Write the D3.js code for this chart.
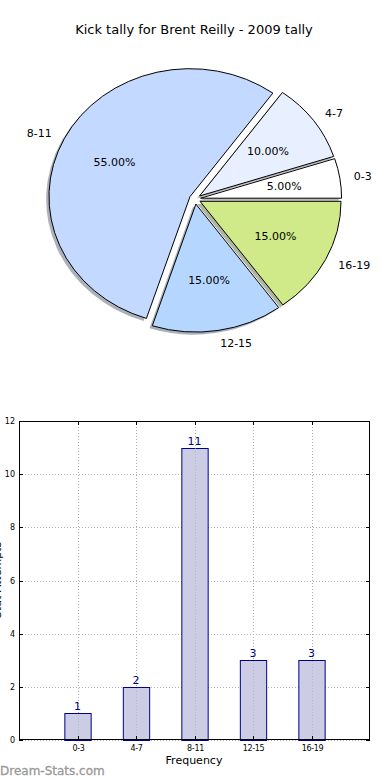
<!DOCTYPE html>
<html><head><meta charset="utf-8">
<script src="https://cdn.jsdelivr.net/npm/d3@7"></script>
<style>
body{margin:0;background:#fff;}
svg{display:block;font-family:"DejaVu Sans",sans-serif;}
</style></head>
<body><svg id="c" width="390" height="780"></svg>
<script>
const categories = ["0-3","4-7","8-11","12-15","16-19"];
const values = [1,2,11,3,3];
const pieColors = ["#ffffff","#e8f0ff","#c4d9ff","#b5d7ff","#d0ea8a"];
const yTicks = [0,2,4,6,8,10,12];
const title = "Kick tally for Brent Reilly - 2009 tally";

const svg = d3.select("#c");
svg.append("rect").attr("width",390).attr("height",780).attr("fill","#fff");

svg.append("text").attr("x",194).attr("y",34).attr("text-anchor","middle")
  .attr("font-size",13).attr("fill","#000").text(title);

// ---- Pie (matplotlib style: start at 3 o'clock, counter-clockwise, elliptical) ----
const cx = 195, cy = 199, rx = 141, ry = 128, explode = 0.04;
const total = d3.sum(values);
const pie = d3.pie().sort(null).startAngle(Math.PI/2).endAngle(Math.PI/2 - 2*Math.PI);
const arcs = pie(values);
const arc = d3.arc().innerRadius(0).outerRadius(rx);
const sy = ry/rx;
function midTheta(d){
  const m = (d.startAngle + d.endAngle)/2;
  return Math.PI/2 - m;
}
function offset(d, dist){
  const t = midTheta(d);
  return [dist*rx*Math.cos(t), -dist*ry*Math.sin(t)];
}
const pieG = svg.append("g");
arcs.forEach((d,i)=>{
  const o = offset(d, explode);
  pieG.append("path")
    .attr("transform",`translate(${cx+o[0]-0.02*rx},${cy+o[1]+0.02*ry}) scale(1,${sy})`)
    .attr("d", arc(d))
    .attr("fill", d3.rgb(pieColors[i]).darker(2.2))
    .attr("fill-opacity",0.5);
});
arcs.forEach((d,i)=>{
  const o = offset(d, explode);
  pieG.append("path")
    .attr("transform",`translate(${cx+o[0]},${cy+o[1]}) scale(1,${sy})`)
    .attr("d", arc(d))
    .attr("fill", pieColors[i])
    .attr("stroke","#000").attr("stroke-width",1)
    .attr("vector-effect","non-scaling-stroke");
});
arcs.forEach((d,i)=>{
  const o = offset(d, explode);
  const t = midTheta(d);
  const bx = cx+o[0], by = cy+o[1];
  const lx = bx + 1.1*rx*Math.cos(t), ly = by - 1.1*ry*Math.sin(t);
  pieG.append("text").attr("x",lx).attr("y",ly).attr("dy","0.35em")
    .attr("text-anchor", Math.cos(t) > 0 ? "start" : "end")
    .attr("font-size",11).attr("fill","#000").text(categories[i]);
  const px = bx + 0.6*rx*Math.cos(t), py = by - 0.6*ry*Math.sin(t);
  pieG.append("text").attr("x",px).attr("y",py).attr("dy","0.35em")
    .attr("text-anchor","middle").attr("font-size",11).attr("fill","#000")
    .text((values[i]/total*100).toFixed(2)+"%");
});

// ---- Bar chart ----
const L = 19, R = 370, T = 421, B = 740;
const x = d3.scaleLinear().domain([-1,5]).range([L,R]);
const y = d3.scaleLinear().domain([0,12]).range([B,T]);
const bw = 0.45;
const bg = svg.append("g");

bg.selectAll(".gy").data(yTicks).join("line")
  .attr("x1",L).attr("x2",R).attr("y1",d=>Math.round(y(d))+0.5).attr("y2",d=>Math.round(y(d))+0.5)
  .attr("stroke","#b0b0b0").attr("stroke-width",1).attr("stroke-dasharray","1,2");
bg.selectAll(".gx").data(categories).join("line")
  .attr("x1",(d,i)=>Math.round(x(i))+0.5).attr("x2",(d,i)=>Math.round(x(i))+0.5).attr("y1",T).attr("y2",B)
  .attr("stroke","#b0b0b0").attr("stroke-width",1).attr("stroke-dasharray","1,2");

bg.selectAll(".bar").data(values).join("rect")
  .attr("x",(d,i)=>x(i-bw/2)+0.5).attr("width",x(bw)-x(0))
  .attr("y",d=>Math.round(y(d))+0.5).attr("height",d=>B-Math.round(y(d)))
  .attr("fill","#ccccE4").attr("stroke","#00008b").attr("stroke-width",1);
bg.selectAll(".gx2").data(categories).join("line")
  .attr("x1",(d,i)=>Math.round(x(i))+0.5).attr("x2",(d,i)=>Math.round(x(i))+0.5).attr("y1",T).attr("y2",B)
  .attr("stroke","#aaa").attr("stroke-width",1).attr("stroke-dasharray","1,2").attr("opacity",0.6);

bg.selectAll(".vl").data(values).join("text")
  .attr("x",(d,i)=>x(i)).attr("y",d=>y(d)-3)
  .attr("text-anchor","middle").attr("font-size",11).attr("fill","#00008b").text(d=>d);

bg.append("rect").attr("x",L+0.5).attr("y",T+0.5).attr("width",R-L-1).attr("height",B-T-1)
  .attr("fill","none").attr("stroke","#000").attr("stroke-width",1);

yTicks.forEach(t=>{
  const yy = Math.round(y(t))+0.5;
  bg.append("line").attr("x1",L).attr("x2",L+4).attr("y1",yy).attr("y2",yy).attr("stroke","#000");
  bg.append("line").attr("x1",R-4).attr("x2",R).attr("y1",yy).attr("y2",yy).attr("stroke","#000");
  bg.append("text").attr("x",L-4).attr("y",yy).attr("dy","0.35em").attr("text-anchor","end")
    .attr("font-size",8).attr("fill","#000").text(t);
});
categories.forEach((c,i)=>{
  const xx = Math.round(x(i))+0.5;
  bg.append("line").attr("x1",xx).attr("x2",xx).attr("y1",B).attr("y2",B-4).attr("stroke","#000");
  bg.append("line").attr("x1",xx).attr("x2",xx).attr("y1",T).attr("y2",T+4).attr("stroke","#000");
  bg.append("text").attr("x",xx).attr("y",B+11).attr("text-anchor","middle")
    .attr("font-size",8).attr("letter-spacing","-0.3").attr("fill","#000").text(c);
});

svg.append("text").attr("x",194).attr("y",764).attr("text-anchor","middle")
  .attr("font-size",11).attr("fill","#000").text("Frequency");
svg.append("text").attr("transform","translate(1,580) rotate(-90)")
  .attr("text-anchor","middle").attr("font-size",11).attr("fill","#000").text("Stat Attempts");

svg.append("text").attr("x",0).attr("y",775).attr("font-size",12)
  .attr("fill","#999").attr("stroke","#999").attr("stroke-width",0.3).text("Dream-Stats.com");
</script>
</body></html>
